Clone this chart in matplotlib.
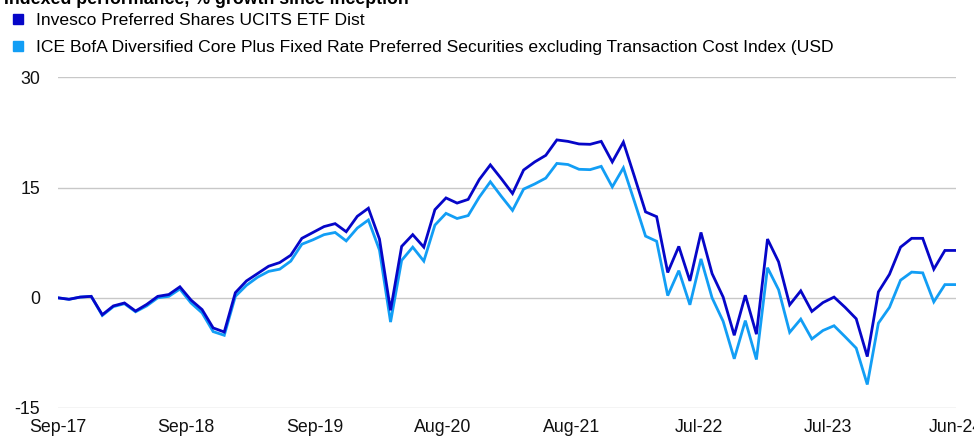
import matplotlib
matplotlib.use("Agg")
import matplotlib.pyplot as plt
from matplotlib.lines import Line2D

plt.rcParams['font.family'] = ['Liberation Sans', 'DejaVu Sans']

# monthly index, Sep-17 .. Jun-24
etf = [0, -0.2, 0.1, 0.2, -2.3, -1.1, -0.7, -1.8, -0.9, 0.2,
       0.45, 1.5, -0.3, -1.6, -4.1, -4.65, 0.7, 2.3, 3.3, 4.3,
       4.8, 5.8, 8.1, 8.9, 9.7, 10.1, 9.0, 11.1, 12.2, 8.0,
       -1.7, 7.0, 8.6, 6.9, 12.0, 13.6, 12.9, 13.4, 16.1, 18.1,
       16.2, 14.2, 17.4, 18.5, 19.4, 21.5, 21.3, 20.95, 20.9, 21.3,
       18.5, 21.2, 16.5, 11.7, 11.05, 3.45, 7.0, 2.3, 8.9, 3.3,
       0.1, -5.1, 0.35, -4.95, 8.0, 4.9, -0.95, 0.95, -1.85, -0.65,
       0.1, -1.3, -2.85, -8.0, 0.8, 3.2, 6.9, 8.1, 8.1, 3.9,
       6.45, 6.45]
index = [0, -0.2, 0.1, 0.2, -2.4, -1.2, -0.8, -1.9, -1.1, 0.0,
         0.2, 1.2, -0.7, -2.05, -4.6, -5.1, 0.2, 1.7, 2.8, 3.6,
         3.9, 5.0, 7.3, 7.9, 8.6, 8.9, 7.75, 9.5, 10.6, 6.5,
         -3.3, 5.1, 6.9, 5.0, 9.9, 11.5, 10.8, 11.2, 13.7, 15.8,
         13.8, 11.9, 14.8, 15.5, 16.3, 18.3, 18.15, 17.5, 17.45, 17.9,
         15.1, 17.7, 13.1, 8.4, 7.7, 0.3, 3.7, -0.95, 5.3, 0.0,
         -3.2, -8.3, -3.1, -8.4, 4.1, 1.1, -4.7, -2.9, -5.6, -4.45,
         -3.8, -5.3, -6.85, -11.8, -3.45, -1.3, 2.4, 3.5, 3.4, -0.55,
         1.8, 1.8]
tick_labels = ['Sep-17', 'Sep-18', 'Sep-19', 'Aug-20', 'Aug-21', 'Jul-22', 'Jul-23', 'Jun-24']
names = ['Invesco Preferred Shares UCITS ETF Dist',
         'ICE BofA Diversified Core Plus Fixed Rate Preferred Securities excluding Transaction Cost Index (USD']

dark = '#0606C8'
light = '#129EF5'

fig = plt.figure(figsize=(9.74, 4.38), dpi=100)
ax = fig.add_axes([0.0595, 0.0685, 0.922, 0.7546])

x = list(range(len(etf)))
ax.plot(x, index, color=light, lw=2, solid_joinstyle='miter')
ax.plot(x, etf, color=dark, lw=2, solid_joinstyle='miter')

ax.set_xlim(0, len(etf) - 1)
ax.set_ylim(-15, 30)
ax.set_yticks([-15, 0, 15, 30])
ax.set_yticklabels(['-15', '0', '15', '30'])
n = len(tick_labels) - 1
ax.set_xticks([i * (len(etf) - 1) / n for i in range(n + 1)])
ax.set_xticklabels(tick_labels)
ax.tick_params(length=0, labelsize=12.8, colors='#111111', pad=13)
ax.tick_params(axis='x', pad=8)
ax.grid(axis='y', color='#C8C8C8', lw=1)
ax.set_axisbelow(True)
for s in ax.spines.values():
    s.set_visible(False)

# title sits mostly above the top edge, as in the source image
fig.text(0.004, 1 - 4 / 438, 'Indexed performance, % growth since inception',
         fontsize=12.8, fontweight='bold', va='baseline', ha='left')

handles = [Line2D([], [], ls='none', marker='s', markersize=7, color=c) for c in (dark, light)]
fig.legend(handles, names, loc='upper left', bbox_to_anchor=(0.004, 0.978),
           frameon=False, fontsize=12.6, handletextpad=0.45, handlelength=1.2,
           labelspacing=0.64, borderpad=0.2, borderaxespad=0)

fig.savefig('out.png', dpi=100)
